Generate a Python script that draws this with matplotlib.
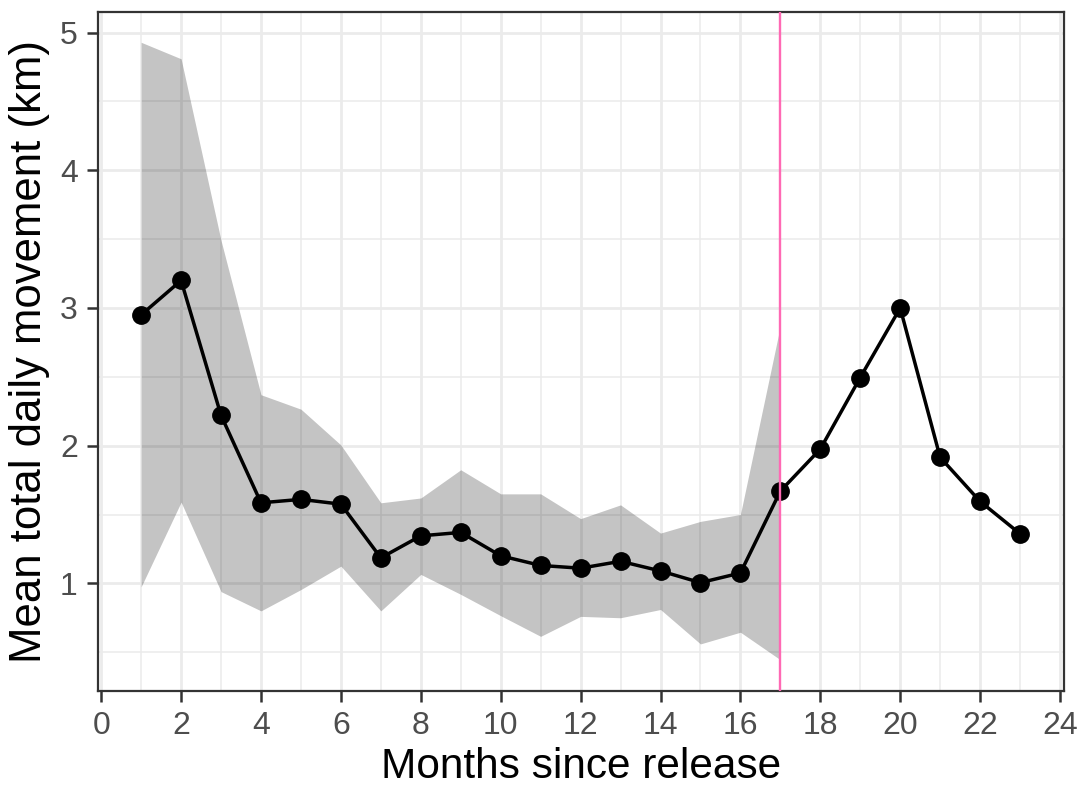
import matplotlib
matplotlib.use("Agg")
import matplotlib.pyplot as plt
from matplotlib.ticker import MultipleLocator

plt.rcParams['font.family'] = ['Liberation Sans', 'DejaVu Sans']

# monthly means and ribbon bounds
months = list(range(1, 24))
mean_km = [2.95, 3.20, 2.22, 1.585, 1.61, 1.575, 1.185, 1.345, 1.37, 1.20, 1.13,
           1.11, 1.16, 1.09, 1.005, 1.075, 1.67, 1.975, 2.495, 3.0, 1.915, 1.595, 1.36]

ribbon_months = list(range(1, 18))
upper_km = [4.93, 4.81, 3.49, 2.37, 2.265, 2.005, 1.585, 1.62, 1.825, 1.65, 1.65,
            1.47, 1.57, 1.365, 1.45, 1.50, 2.87]
lower_km = [0.975, 1.59, 0.94, 0.80, 0.955, 1.125, 0.80, 1.065, 0.92, 0.765, 0.615,
            0.76, 0.75, 0.81, 0.56, 0.645, 0.445]

release_cutoff = 17

fig = plt.figure(figsize=(10.84, 7.86), dpi=100)
ax = fig.add_axes([98 / 1084, 1 - 691 / 786, (1064 - 98) / 1084, (691 - 12) / 786])

ax.fill_between(ribbon_months, lower_km, upper_km, color='black', alpha=0.23,
                linewidth=0, zorder=2)
ax.plot(months, mean_km, color='black', lw=2.5, zorder=3)
ax.plot(months, mean_km, 'o', color='black', markersize=12.5, zorder=4)
ax.axvline(release_cutoff, color='#FF69B4', lw=1.7, zorder=5)

ax.set_xlim(-0.08, 24.1)
ax.set_ylim(0.218, 5.15)
ax.xaxis.set_major_locator(MultipleLocator(2))
ax.xaxis.set_minor_locator(MultipleLocator(1))
ax.yaxis.set_major_locator(MultipleLocator(1))
ax.yaxis.set_minor_locator(MultipleLocator(0.5))

ax.grid(which='major', color='#EBEBEB', lw=2.0, zorder=0)
ax.grid(which='minor', color='#EBEBEB', lw=1.1, zorder=0)
ax.set_axisbelow(True)

for s in ax.spines.values():
    s.set_color('#333333')
    s.set_linewidth(1.6)

ax.tick_params(which='major', length=8, width=1.8, color='#333333',
               labelsize=23, labelcolor='#4D4D4D', pad=6.5)
ax.tick_params(which='minor', length=0)

ax.set_xlabel('Months since release', fontsize=30.5, color='black', labelpad=4)
ax.set_ylabel('Mean total daily movement (km)', fontsize=31.5, color='black', labelpad=7)

fig.savefig('out.png', dpi=100, facecolor='white')
